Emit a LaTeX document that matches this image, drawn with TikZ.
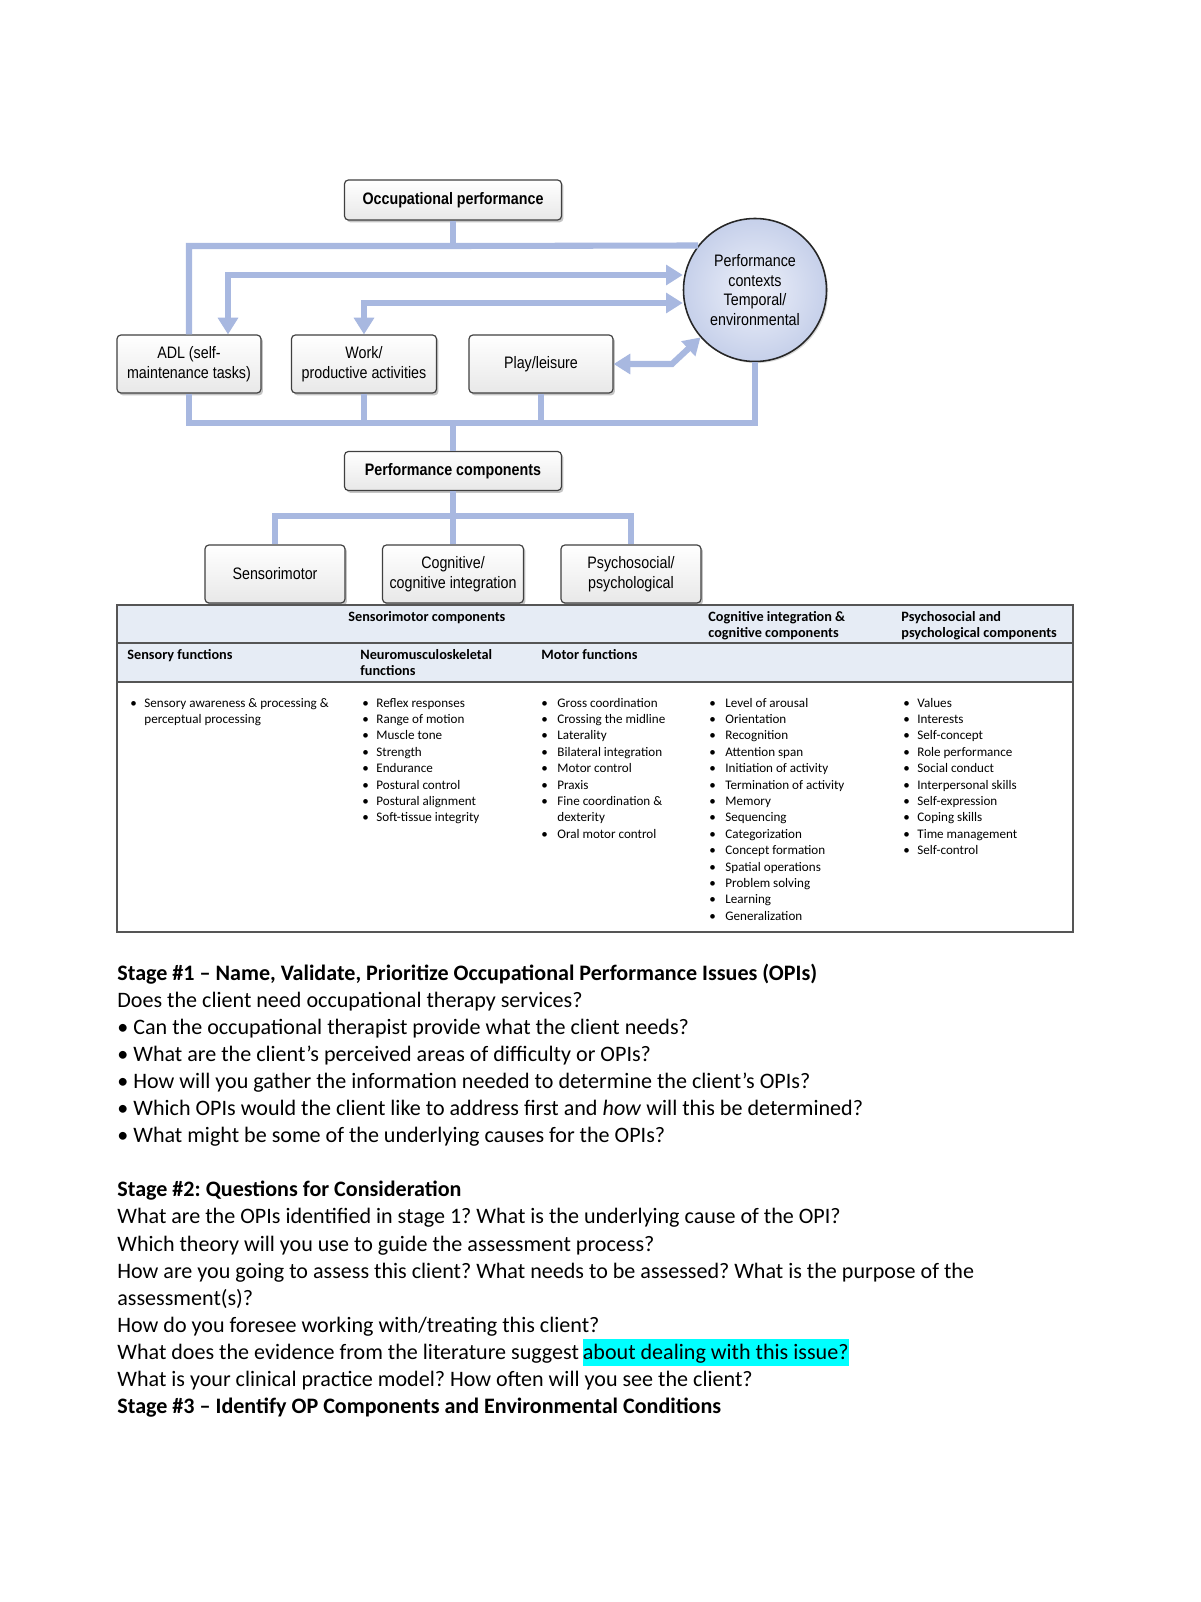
\documentclass[tikz,border=0pt]{standalone}
\usepackage{fontspec}
\setmainfont{Carlito}
\newfontfamily\diagfont[FakeStretch=0.86]{Liberation Sans}
\usetikzlibrary{arrows.meta,shadows}
\frenchspacing

\definecolor{connblue}{HTML}{A8B8E0}
\definecolor{hdrfill}{HTML}{E6ECF5}
\definecolor{ctxin}{HTML}{EEF1FA}
\definecolor{ctxout}{HTML}{C6D0EA}
\definecolor{tabline}{HTML}{555555}
\definecolor{hlcyan}{RGB}{0,255,255}
\newcommand{\pxl}[1]{#1*0.51bp}

\tikzset{
  pbox/.style={draw=black!75, line width=0.6bp, rounded corners=2bp,
    top color=white, bottom color=black!9,
    drop shadow={shadow xshift=1bp, shadow yshift=-1.2bp, fill=black!45},
    align=center, inner sep=1bp, font=\diagfont\fontsize{8.5}{10}\selectfont},
  ctxcircle/.style={circle, draw=black!85, line width=0.8bp, inner sep=0pt,
    inner color=ctxin, outer color=ctxout, minimum size=\pxl{143},
    drop shadow={shadow xshift=0.8bp, shadow yshift=-0.8bp, fill=black!30},
    align=center, font=\diagfont\fontsize{8.5}{10}\selectfont},
  conn/.style={draw=connblue, line width=3.1bp},
  >={Triangle[width=10bp,length=8.5bp]},
  cell/.style={anchor=base west, inner sep=0pt, font=\fontsize{6.7}{8}\selectfont},
  hcell/.style={cell, font=\fontsize{7.3}{8}\selectfont\bfseries},
  txt/.style={anchor=base west, inner sep=0pt, font=\fontsize{11.3}{13}\selectfont}
}

\begin{document}
\begin{tikzpicture}[x=0.51bp, y=-0.51bp]
\useasboundingbox[fill=white] (0,0) rectangle (1200,1602);

% upper part
\node[pbox, font=\diagfont\fontsize{8.5}{10}\selectfont\bfseries,
  minimum width=\pxl{217}, minimum height=\pxl{40}] (op) at (453,200) {Occupational performance};
\node[ctxcircle] (ctx) at (755,290) {Performance\\contexts\\Temporal/\\environmental};
\node[pbox, minimum width=\pxl{144}, minimum height=\pxl{58}] (adl) at (189,364) {ADL (self-\\maintenance tasks)};
\node[pbox, minimum width=\pxl{145}, minimum height=\pxl{58}] (work) at (364,364) {Work/\\productive activities};
\node[pbox, minimum width=\pxl{144}, minimum height=\pxl{58}] (play) at (541,364) {Play/leisure};

\coordinate (tbus) at (453,246);
\coordinate (a1) at (228,275);
\coordinate (a2) at (364,303);
\coordinate (a3) at (672,364);
\coordinate (bus) at (453,423);

\draw[conn] (op.south) -- (tbus);
\draw[conn] (adl.north) |- (tbus) -- (ctx.142);
\draw[conn, <->] (a1 |- adl.north) -- (a1) -- (a1 -| ctx.west);
\draw[conn, <->] (a2 |- work.north) -- (a2) -- (a2 -| ctx.west);
\draw[conn, <->] (play.east) -- (a3) -- (ctx.221);
\draw[conn] (adl.south) |- (bus) -| (ctx.south);
\draw[conn] (work.south) -- (work.south |- bus);
\draw[conn] (play.south) -- (play.south |- bus);

% lower part
\node[pbox, font=\diagfont\fontsize{8.5}{10}\selectfont\bfseries,
  minimum width=\pxl{217}, minimum height=\pxl{39}] (pc) at (453,471) {Performance components};
\node[pbox, minimum width=\pxl{140}, minimum height=\pxl{58}] (sens) at (275,574) {Sensorimotor};
\node[pbox, minimum width=\pxl{141}, minimum height=\pxl{58}] (cog) at (453,574) {Cognitive/\\cognitive integration};
\node[pbox, minimum width=\pxl{140}, minimum height=\pxl{58}] (psy) at (631,574) {Psychosocial/\\psychological};

\coordinate (lbus) at (453,516);
\draw[conn] (bus) -- (pc.north);
\draw[conn] (pc.south) -- (cog.north);
\draw[conn] (sens.north) |- (lbus) -| (psy.north);

% table
\draw[tabline, line width=0.8bp, fill=hdrfill] (117,605) rectangle (1073,682);
\draw[tabline, line width=0.8bp] (117,643) -- (1073,643);
\draw[tabline, line width=0.8bp] (117,682) rectangle (1073,932);

\node[hcell] at (348,621) {Sensorimotor components};
\node[hcell] at (708,621) {Cognitive integration \&};
\node[hcell] at (708,637) {cognitive components};
\node[hcell] at (901,621) {Psychosocial and};
\node[hcell] at (901,637) {psychological components};
\node[hcell] at (127,659) {Sensory functions};
\node[hcell] at (360,659) {Neuromusculoskeletal};
\node[hcell] at (360,675) {functions};
\node[hcell] at (541,659) {Motor functions};

\node[cell] at (130,707) {\textbullet};
\node[cell] at (144,707) {Sensory awareness \& processing \&};
\node[cell] at (144,723.4) {perceptual processing};

\foreach \t [count=\i from 0] in {Reflex responses, Range of motion, Muscle tone,
  Strength, Endurance, Postural control, Postural alignment, Soft-tissue integrity}{
  \node[cell] at (362,707+16.4*\i) {\textbullet};
  \node[cell] at (376,707+16.4*\i) {\t};
}
\foreach \b/\t [count=\i from 0] in {1/Gross coordination, 1/Crossing the midline,
  1/Laterality, 1/Bilateral integration, 1/Motor control, 1/Praxis,
  1/Fine coordination \&, 0/dexterity, 1/Oral motor control}{
  \ifnum\b=1 \node[cell] at (541,707+16.4*\i) {\textbullet}; \fi
  \node[cell] at (557,707+16.4*\i) {\t};
}
\foreach \t [count=\i from 0] in {Level of arousal, Orientation, Recognition,
  Attention span, Initiation of activity, Termination of activity, Memory,
  Sequencing, Categorization, Concept formation, Spatial operations,
  Problem solving, Learning, Generalization}{
  \node[cell] at (709,707+16.4*\i) {\textbullet};
  \node[cell] at (725,707+16.4*\i) {\t};
}
\foreach \t [count=\i from 0] in {Values, Interests, Self-concept, Role performance,
  Social conduct, Interpersonal skills, Self-expression, Coping skills,
  Time management, Self-control}{
  \node[cell] at (903,707+16.4*\i) {\textbullet};
  \node[cell] at (917,707+16.4*\i) {\t};
}

% questions
\foreach \t [count=\i from 0] in {
  {\textbf{Stage \#1 – Name, Validate, Prioritize Occupational Performance Issues (OPIs)}},
  {Does the client need occupational therapy services?},
  {• Can the occupational therapist provide what the client needs?},
  {• What are the client’s perceived areas of difficulty or OPIs?},
  {• How will you gather the information needed to determine the client’s OPIs?},
  {• Which OPIs would the client like to address first and \textit{how} will this be determined?},
  {• What might be some of the underlying causes for the OPIs?},
  {},
  {\textbf{Stage \#2: Questions for Consideration}},
  {What are the OPIs identified in stage 1? What is the underlying cause of the OPI?},
  {Which theory will you use to guide the assessment process?},
  {How are you going to assess this client? What needs to be assessed? What is the purpose of the},
  {assessment(s)?},
  {How do you foresee working with/treating this client?},
  {What does the evidence from the literature suggest},
  {What is your clinical practice model? How often will you see the client?},
  {\textbf{Stage \#3 – Identify OP Components and Environmental Conditions}}}{
  \node[txt] (q\i) at (117,980+27.1*\i) {\t};
}
\node[txt, fill=hlcyan, text height=10.2bp, text depth=3.6bp, anchor=base west]
  (hl) at ([xshift=1.6bp]q14.base east) {about dealing with this issue?};
\end{tikzpicture}
\end{document}
